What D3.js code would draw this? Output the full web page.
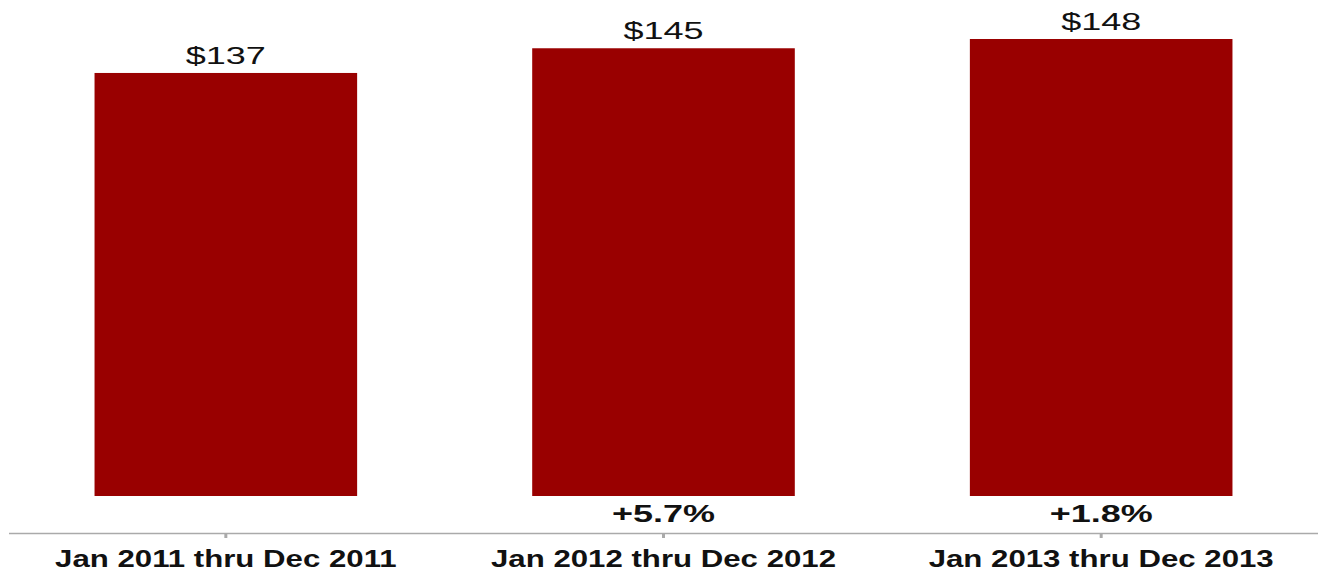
<!DOCTYPE html>
<html><head><meta charset="utf-8">
<script src="https://cdn.jsdelivr.net/npm/d3@7"></script>
<style>body{margin:0;background:#fff;}svg{display:block;}</style>
</head><body>
<script>
const categories = ["Jan 2011 thru Dec 2011", "Jan 2012 thru Dec 2012", "Jan 2013 thru Dec 2013"];
const values = [137, 145, 148];
const valueLabels = ["$137", "$145", "$148"];
const changeLabels = ["", "+5.7%", "+1.8%"];

const W = 1318, H = 575;
const svg = d3.select("body").append("svg").attr("width", W).attr("height", H);

const x = d3.scaleBand().domain(categories).range([7, 1320]).paddingInner(0.4).paddingOuter(0.2);
const y = d3.scaleLinear().domain([0, 148]).range([496, 39]);
const axisY = 533;
const font = "Liberation Sans, Arial, Helvetica, sans-serif";
const cx = i => x(categories[i]) + x.bandwidth() / 2;

svg.selectAll("rect.bar").data(values).join("rect")
  .attr("class", "bar")
  .attr("x", (d, i) => x(categories[i]))
  .attr("width", x.bandwidth())
  .attr("y", d => y(d))
  .attr("height", d => y(0) - y(d))
  .attr("fill", "#990000");

svg.selectAll("text.val").data(values).join("text")
  .attr("class", "val")
  .attr("transform", (d, i) => `translate(${cx(i)},${y(d) - 9}) scale(1.5,1)`)
  .attr("text-anchor", "middle")
  .attr("font-family", font)
  .attr("font-size", 24)
  .attr("fill", "#111")
  .text((d, i) => valueLabels[i]);

svg.selectAll("text.chg").data(changeLabels).join("text")
  .attr("class", "chg")
  .attr("transform", (d, i) => `translate(${cx(i)},522) scale(1.5,1)`)
  .attr("text-anchor", "middle")
  .attr("font-family", font)
  .attr("font-weight", "bold")
  .attr("font-size", 24)
  .attr("fill", "#111")
  .text(d => d);

const axis = d3.axisBottom(x).tickSize(5).tickPadding(12);
const g = svg.append("g").attr("transform", `translate(0,${axisY})`).call(axis);
g.select(".domain").attr("d", `M9,0.5H1318`).attr("stroke", "#aaa").attr("stroke-width", 1.5);
g.selectAll(".tick line").attr("stroke", "#aaa").attr("stroke-width", 3);
g.selectAll(".tick text")
  .attr("font-family", font)
  .attr("font-weight", "bold")
  .attr("font-size", 24)
  .attr("fill", "#111")
  .attr("dy", null)
  .attr("y", null)
  .attr("transform", "translate(0,34) scale(1.3,1)");
</script>
</body></html>
